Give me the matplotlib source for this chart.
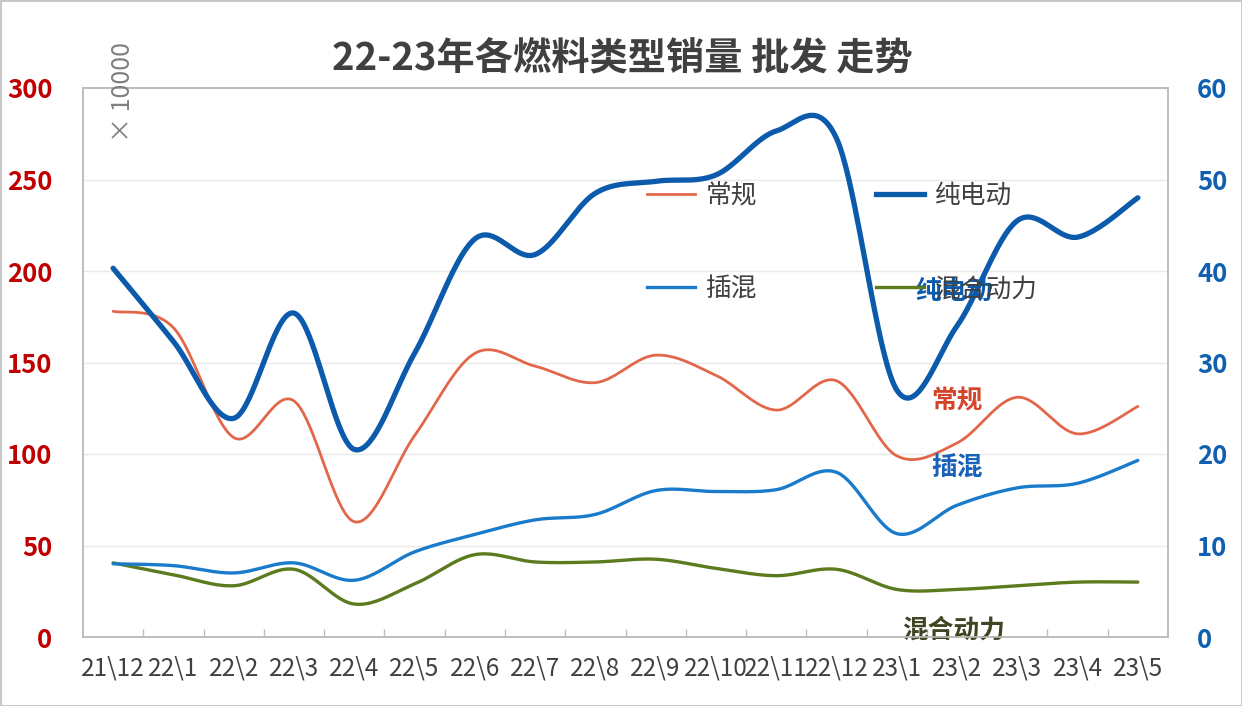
import numpy as np
import matplotlib
matplotlib.use("Agg")
import matplotlib.pyplot as plt
from matplotlib.lines import Line2D

plt.rcParams['font.family'] = ['Noto Sans CJK SC', 'DejaVu Sans']

# ---------------- data ----------------
months = ["21\\12", "22\\1", "22\\2", "22\\3", "22\\4", "22\\5", "22\\6", "22\\7", "22\\8",
          "22\\9", "22\\10", "22\\11", "22\\12", "23\\1", "23\\2", "23\\3", "23\\4", "23\\5"]
conventional = [178, 169, 109, 129, 63, 110, 155, 148, 139, 154, 143, 124, 140, 99, 106, 131, 111, 126]   # left axis
bev = [40.3, 32.3, 23.9, 35.4, 20.5, 31.0, 43.5, 41.8, 48.5, 49.8, 50.5, 55.3, 54.5, 27.0, 34.0, 45.5, 43.7, 48.0]  # right axis
phev = [8.0, 7.8, 7.0, 8.1, 6.2, 9.3, 11.2, 12.8, 13.4, 16.0, 15.9, 16.1, 18.0, 11.3, 14.4, 16.3, 16.8, 19.3]      # right axis
hev = [8.1, 6.8, 5.6, 7.4, 3.6, 5.8, 9.0, 8.2, 8.2, 8.5, 7.5, 6.7, 7.4, 5.2, 5.2, 5.6, 6.0, 6.0]                   # right axis
left_ticks = [0, 50, 100, 150, 200, 250, 300]
right_ticks = [0, 10, 20, 30, 40, 50, 60]
names = ["常规", "纯电动", "插混", "混合动力"]
title = "22-23年各燃料类型销量 批发 走势"

C_CONV = "#E2674A"
C_BEV = "#0B5AAB"
C_PHEV = "#1A7BCB"
C_HEV = "#5C7A1E"


def excel_smooth(xs, ys, n=40):
    P = np.column_stack([xs, ys]).astype(float)
    N = len(P)
    t = np.linspace(0, 1, n)[1:, None]
    out = [P[0:1]]
    for i in range(N - 1):
        p0, p3 = P[i], P[i + 1]
        pm = P[i - 1] if i > 0 else P[i]
        pp = P[i + 2] if i + 2 < N else P[i + 1]
        c1 = p0 + (p3 - pm) / 6
        c2 = p3 - (pp - p0) / 6
        seg = (1 - t) ** 3 * p0 + 3 * (1 - t) ** 2 * t * c1 + 3 * (1 - t) * t ** 2 * c2 + t ** 3 * p3
        out.append(seg)
    S = np.vstack(out)
    return S[:, 0], S[:, 1]


W, H = 1242, 706
fig = plt.figure(figsize=(W / 100, H / 100), dpi=100)
fig.patch.set_facecolor("white")
fig.patch.set_edgecolor("#C8C8C8")
fig.patch.set_linewidth(2)

ax = fig.add_axes([83 / W, 1 - 637 / H, (1168 - 83) / W, (637 - 88) / H])
ax2 = ax.twinx()

x = np.arange(len(months))

ax.set_xlim(-0.5, len(months) - 0.5)
ax.set_ylim(0, 300)
ax2.set_ylim(0, 60)

# gridlines
ax.set_yticks(left_ticks)
ax.grid(axis="y", color="#E9E9E9", linewidth=1)
ax.set_axisbelow(True)

sx, sy = excel_smooth(x, conventional)
l1, = ax.plot(sx, sy, color=C_CONV, lw=2.0, solid_capstyle="round", zorder=3)

sx, sy = excel_smooth(x, hev)
l4, = ax2.plot(sx, sy, color=C_HEV, lw=2.4, solid_capstyle="round", zorder=3)
sx, sy = excel_smooth(x, phev)
l3, = ax2.plot(sx, sy, color=C_PHEV, lw=2.4, solid_capstyle="round", zorder=3)
sx, sy = excel_smooth(x, bev)
l2, = ax2.plot(sx, sy, color=C_BEV, lw=3.8, solid_capstyle="round", zorder=4)

# axes styling
for a in (ax, ax2):
    for s in a.spines.values():
        s.set_color("#BDBDBD")
        s.set_linewidth(1.2)

ax.set_xticks(np.arange(0.5, len(months) - 1, 1.0))
ax.set_xticklabels([])
ax.tick_params(axis="x", which="major", direction="in", length=6, color="#BDBDBD", width=1)
ax.set_xticks(x, minor=True)
ax.set_xticklabels(months, minor=True)
ax.tick_params(axis="x", which="minor", length=0, pad=13, labelsize=17.5, labelcolor="#404040")

ax.tick_params(axis="y", length=0, pad=22, labelsize=18.5, labelcolor="#C00000")
for lab in ax.get_yticklabels():
    lab.set_fontweight("bold")
    lab.set_horizontalalignment("right")

ax2.set_yticks(right_ticks)
ax2.tick_params(axis="y", length=0, pad=21, labelsize=18.5, labelcolor="#1060B0")
for lab in ax2.get_yticklabels():
    lab.set_fontweight("bold")

# title
fig.text(622 / W, 1 - 58 / H, title, ha="center", va="center", fontsize=27.5,
         fontweight="bold", color="#404040")

# unit label
fig.text(123 / W, 1 - 92 / H, "× 10000", rotation=90, ha="center", va="center",
         fontsize=18, color="#808080")

# series labels on the chart
FS = 18.5
ax.text(13.95, 189, names[1], ha="center", va="center", fontsize=FS,
        fontweight="bold", color=C_BEV, zorder=5)
ax.text(14.0, 129, names[0], ha="center", va="center", fontsize=FS,
        fontweight="bold", color="#D4442A", zorder=5)
ax.text(14.0, 93, names[2], ha="center", va="center", fontsize=FS,
        fontweight="bold", color="#1A62B8", zorder=5)
ax.text(13.95, 4.0, names[3], ha="center", va="center", fontsize=FS,
        fontweight="bold", color="#3F4422", zorder=5)

# legend (row 1: 常规, 纯电动 ; row 2: 插混, 混合动力)
handles = [Line2D([], [], color=C_CONV, lw=2.0),
           Line2D([], [], color=C_PHEV, lw=2.4),
           Line2D([], [], color=C_BEV, lw=3.8),
           Line2D([], [], color=C_HEV, lw=2.4)]
labels = [names[0], names[2], names[1], names[3]]
leg = ax2.legend(handles, labels, ncol=2, loc="upper left",
                 bbox_to_anchor=(647 / W, 1 - 183 / H), bbox_transform=fig.transFigure,
                 frameon=False, fontsize=FS, handlelength=1.85, handletextpad=0.42,
                 columnspacing=4.65, labelspacing=2.62, borderpad=0, borderaxespad=0)
for t in leg.get_texts():
    t.set_color("#404040")
leg.set_zorder(6)

fig.savefig("out.png", dpi=100, facecolor=fig.get_facecolor(), edgecolor=fig.get_edgecolor())
